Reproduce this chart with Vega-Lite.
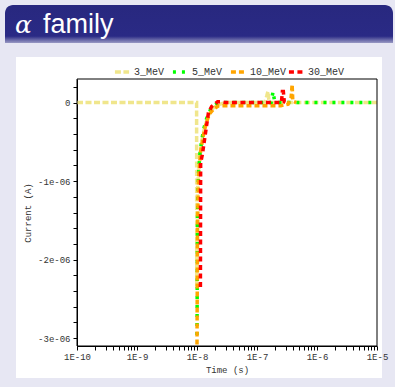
{
  "$schema": "https://vega.github.io/schema/vega-lite/v6.json",
  "background": "#e7e7f3",
  "padding": {"left": 5, "top": 5, "right": 2, "bottom": 9},
  "spacing": 14,
  "center": true,
  "bounds": "flush",
  "config": {
    "view": {"stroke": null},
    "font": "Liberation Mono",
    "axis": {
      "labelOverlap": false,
      "labelFlush": false,
      "grid": false,
      "domainColor": "black",
      "tickColor": "black",
      "tickSize": 4,
      "labelFont": "Liberation Mono",
      "labelFontSize": 9,
      "labelColor": "#333",
      "titleFont": "Liberation Mono",
      "titleFontSize": 9,
      "titleFontWeight": "normal",
      "titleColor": "#333"
    }
  },
  "vconcat": [
    {
      "width": 388,
      "height": 38,
      "data": {"values": [{"label": "α"}, {"label": "family"}]},
      "layer": [
        {
          "transform": [{"filter": "datum.label == 'family'"}],
          "mark": {
            "type": "rect",
            "cornerRadiusTopLeft": 8,
            "cornerRadiusTopRight": 8,
            "fill": {
              "gradient": "linear",
              "x1": 0, "y1": 0, "x2": 0, "y2": 1,
              "stops": [
                {"offset": 0, "color": "#28287f"},
                {"offset": 0.82, "color": "#2a2a85"},
                {"offset": 1, "color": "#9a9ac4"}
              ]
            }
          },
          "encoding": {}
        },
        {
          "transform": [{"filter": "datum.label == 'α'"}],
          "mark": {"type": "text", "x": 10, "y": 28, "align": "left", "baseline": "alphabetic", "font": "DejaVu Serif", "fontStyle": "italic", "fontSize": 25, "color": "white"},
          "encoding": {"text": {"field": "label"}}
        },
        {
          "transform": [{"filter": "datum.label == 'family'"}],
          "mark": {"type": "text", "x": 38, "y": 28, "align": "left", "baseline": "alphabetic", "font": "Liberation Sans", "fontSize": 27, "color": "white"},
          "encoding": {"text": {"field": "label"}}
        }
      ]
    },
    {
      "width": 366,
      "height": 321,
      "view": {"fill": "white"},
      "resolve": {"axis": {"y": "independent"}},
      "layer": [
        {
          "data": {"values": [
            {"t": 1e-10, "v": 0, "series": "3_MeV"},
            {"t": 9.85e-9, "v": 0, "series": "3_MeV"},
            {"t": 9.9e-9, "v": -2.35e-6, "series": "3_MeV"},
            {"t": 1.0e-8, "v": -1.3e-6, "series": "3_MeV"},
            {"t": 1.06e-8, "v": -8.5e-7, "series": "3_MeV"},
            {"t": 1.15e-8, "v": -6.0e-7, "series": "3_MeV"},
            {"t": 1.25e-8, "v": -4.2e-7, "series": "3_MeV"},
            {"t": 1.36e-8, "v": -3.0e-7, "series": "3_MeV"},
            {"t": 1.52e-8, "v": -1.8e-7, "series": "3_MeV"},
            {"t": 1.78e-8, "v": -8e-8, "series": "3_MeV"},
            {"t": 2.2e-8, "v": -3e-8, "series": "3_MeV"},
            {"t": 3e-8, "v": 0, "series": "3_MeV"},
            {"t": 1.35e-7, "v": 0, "series": "3_MeV"},
            {"t": 1.45e-7, "v": 8e-8, "series": "3_MeV"},
            {"t": 1.52e-7, "v": 1.4e-7, "series": "3_MeV"},
            {"t": 1.58e-7, "v": 3e-8, "series": "3_MeV"},
            {"t": 1.7e-7, "v": 0, "series": "3_MeV"},
            {"t": 1e-5, "v": 0, "series": "3_MeV"},

            {"t": 1.0e-8, "v": -2.96e-6, "series": "5_MeV"},
            {"t": 1.02e-8, "v": -1.5e-6, "series": "5_MeV"},
            {"t": 1.06e-8, "v": -9.0e-7, "series": "5_MeV"},
            {"t": 1.12e-8, "v": -6.5e-7, "series": "5_MeV"},
            {"t": 1.2e-8, "v": -4.8e-7, "series": "5_MeV"},
            {"t": 1.3e-8, "v": -3.3e-7, "series": "5_MeV"},
            {"t": 1.45e-8, "v": -2.0e-7, "series": "5_MeV"},
            {"t": 1.7e-8, "v": -8e-8, "series": "5_MeV"},
            {"t": 2.1e-8, "v": -2e-8, "series": "5_MeV"},
            {"t": 3e-8, "v": 0, "series": "5_MeV"},
            {"t": 1.72e-7, "v": 0, "series": "5_MeV"},
            {"t": 1.85e-7, "v": 1.4e-7, "series": "5_MeV"},
            {"t": 1.95e-7, "v": 3e-8, "series": "5_MeV"},
            {"t": 2.1e-7, "v": 0, "series": "5_MeV"},
            {"t": 1e-5, "v": 0, "series": "5_MeV"},

            {"t": 1.0e-8, "v": -3.08e-6, "series": "10_MeV"},
            {"t": 1.02e-8, "v": -1.6e-6, "series": "10_MeV"},
            {"t": 1.06e-8, "v": -9.5e-7, "series": "10_MeV"},
            {"t": 1.15e-8, "v": -6.2e-7, "series": "10_MeV"},
            {"t": 1.25e-8, "v": -4.5e-7, "series": "10_MeV"},
            {"t": 1.4e-8, "v": -2.8e-7, "series": "10_MeV"},
            {"t": 1.6e-8, "v": -1.5e-7, "series": "10_MeV"},
            {"t": 1.9e-8, "v": -8e-8, "series": "10_MeV"},
            {"t": 2.3e-8, "v": -4e-8, "series": "10_MeV"},
            {"t": 1e-7, "v": -4e-8, "series": "10_MeV"},
            {"t": 2.5e-7, "v": -4e-8, "series": "10_MeV"},
            {"t": 3.3e-7, "v": -2e-8, "series": "10_MeV"},
            {"t": 3.7e-7, "v": 6e-8, "series": "10_MeV"},
            {"t": 3.85e-7, "v": 2.3e-7, "series": "10_MeV"},
            {"t": 3.95e-7, "v": 2e-8, "series": "10_MeV"},
            {"t": 4.5e-7, "v": 0, "series": "10_MeV"},

            {"t": 1.14e-8, "v": -2.35e-6, "series": "30_MeV"},
            {"t": 1.15e-8, "v": -7.7e-7, "series": "30_MeV"},
            {"t": 1.23e-8, "v": -6.6e-7, "series": "30_MeV"},
            {"t": 1.36e-8, "v": -4.3e-7, "series": "30_MeV"},
            {"t": 1.55e-8, "v": -1.3e-7, "series": "30_MeV"},
            {"t": 1.76e-8, "v": -5e-8, "series": "30_MeV"},
            {"t": 2.2e-8, "v": 1e-8, "series": "30_MeV"},
            {"t": 2.6e-8, "v": 1e-8, "series": "30_MeV"},
            {"t": 3e-8, "v": 0, "series": "30_MeV"},
            {"t": 2.55e-7, "v": 0, "series": "30_MeV"},
            {"t": 2.65e-7, "v": 1.4e-7, "series": "30_MeV"},
            {"t": 2.75e-7, "v": 1.4e-7, "series": "30_MeV"},
            {"t": 2.85e-7, "v": 1e-8, "series": "30_MeV"},
            {"t": 3e-7, "v": 0, "series": "30_MeV"}
          ]},
          "mark": {"type": "line", "strokeWidth": 3.5, "strokeCap": "butt"},
          "encoding": {
            "x": {
              "field": "t", "type": "quantitative", "title": "Time (s)",
              "scale": {"type": "log", "domain": [1e-10, 1e-5], "range": [61, 361]},
              "axis": {
                "offset": -32,
                "values": [1e-10, 2e-10, 3e-10, 4e-10, 5e-10, 6e-10, 7e-10, 8e-10, 9e-10,
                           1e-9, 2e-9, 3e-9, 4e-9, 5e-9, 6e-9, 7e-9, 8e-9, 9e-9,
                           1e-8, 2e-8, 3e-8, 4e-8, 5e-8, 6e-8, 7e-8, 8e-8, 9e-8,
                           1e-7, 2e-7, 3e-7, 4e-7, 5e-7, 6e-7, 7e-7, 8e-7, 9e-7,
                           1e-6, 2e-6, 3e-6, 4e-6, 5e-6, 6e-6, 7e-6, 8e-6, 9e-6, 1e-5],
                "labelExpr": "abs(log(datum.value)/LN10 - round(log(datum.value)/LN10)) < 0.001 ? '1E' + round(log(datum.value)/LN10) : ''",
                "labelPadding": 2,
                "labelOverlap": false,
                "titlePadding": 4
              }
            },
            "y": {
              "field": "v", "type": "quantitative", "title": "Current (A)",
              "scale": {"domain": [-3.1e-6, 3e-7], "range": [289, 22], "nice": false, "zero": false},
              "axis": {
                "offset": -61,
                "values": [0, -1e-6, -2e-6, -3e-6],
                "labelExpr": "abs(datum.value) < 1e-9 ? '0' : '-' + round(abs(datum.value)*1e6) + 'e-06'",
                "labelPadding": 3,
                "labelOverlap": false,
                "titlePadding": 5
              }
            },
            "color": {
              "field": "series", "type": "nominal",
              "scale": {"domain": ["3_MeV", "5_MeV", "10_MeV", "30_MeV"], "range": ["#f0e68c", "#00ff00", "#ffa500", "#ff0000"]},
              "legend": {
                "title": null,
                "orient": "none",
                "legendX": 108,
                "legendY": 58,
                "direction": "horizontal",
                "symbolType": "stroke",
                "symbolStrokeWidth": 3.5,
                "symbolSize": 200,
                "labelFont": "Liberation Mono",
                "labelFontSize": 10,
                "labelColor": "#333",
                "labelOffset": 3,
                "columnPadding": -7,
                "gridAlign": "all",
                "padding": 0
              }
            },
            "strokeDash": {
              "field": "series", "type": "nominal",
              "scale": {"domain": ["3_MeV", "5_MeV", "10_MeV", "30_MeV"], "range": [[6, 2.5], [3, 6], [5, 3], [5, 3.5]]},
              "legend": {
                "title": null,
                "orient": "none",
                "legendX": 108,
                "legendY": 58,
                "direction": "horizontal",
                "symbolType": "stroke",
                "symbolStrokeWidth": 3.5,
                "symbolSize": 200,
                "labelFont": "Liberation Mono",
                "labelFontSize": 10,
                "labelColor": "#333",
                "labelOffset": 3,
                "columnPadding": -7,
                "gridAlign": "all",
                "padding": 0
              }
            }
          }
        },
        {
          "data": {"values": [{}]},
          "mark": {"type": "rect", "fill": null, "stroke": "black", "strokeWidth": 1},
          "encoding": {
            "x": {"datum": 1e-10, "type": "quantitative", "title": "Time (s)"},
            "x2": {"datum": 1e-5},
            "y": {
              "datum": -3.1e-6, "type": "quantitative",
              "axis": {
                "orient": "left",
                "offset": -61,
                "values": [2e-7, -2e-7, -4e-7, -6e-7, -8e-7, -1.2e-6, -1.4e-6, -1.6e-6, -1.8e-6, -2.2e-6, -2.4e-6, -2.6e-6, -2.8e-6],
                "labels": false,
                "domain": false,
                "title": null,
                "tickSize": 4
              }
            },
            "y2": {"datum": 3e-7}
          }
        }
      ]
    }
  ]
}
